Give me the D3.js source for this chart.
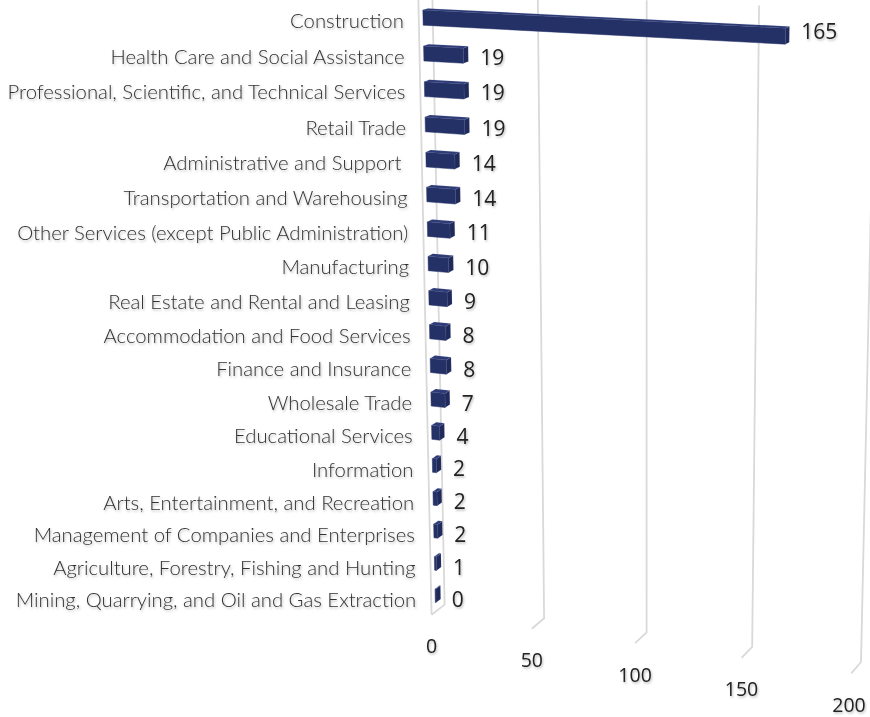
<!DOCTYPE html>
<html>
<head>
<meta charset="utf-8">
<script src="https://cdn.jsdelivr.net/npm/d3@7"></script>
<style>
  body { margin: 0; background: #ffffff; }
  svg { display: block; }
</style>
</head>
<body>
<svg id="chart" width="870" height="717"></svg>
<script>
// ---- data ----
const categories = [
  "Construction",
  "Health Care and Social Assistance",
  "Professional, Scientific, and Technical Services",
  "Retail Trade",
  "Administrative and Support ",
  "Transportation and Warehousing",
  "Other Services (except Public Administration)",
  "Manufacturing",
  "Real Estate and Rental and Leasing",
  "Accommodation and Food Services",
  "Finance and Insurance",
  "Wholesale Trade",
  "Educational Services",
  "Information",
  "Arts, Entertainment, and Recreation",
  "Management of Companies and Enterprises",
  "Agriculture, Forestry, Fishing and Hunting",
  "Mining, Quarrying, and Oil and Gas Extraction"
];
const values = [165, 19, 19, 19, 14, 14, 11, 10, 9, 8, 8, 7, 4, 2, 2, 2, 1, 0];
const valueTicks = [0, 50, 100, 150, 200];

// ---- 3D box: value (x) × category (y, top→bottom) × depth (z, front→back) ----
const n = categories.length;
const xWorld = d3.scaleLinear().domain([0, 200]).range([0, 1]);
const yWorld = d3.scaleBand().domain(categories).range([0, 1]).paddingInner(0.58).paddingOuter(0.29);
const step = yWorld.step();
const zWorld = d3.scaleLinear().domain([0, 1]).range([0, 1]);
const barDepth = [0.3, 0.65];

// Camera: a perspective (3x4) projection fitted to where box landmarks sit on the page.
// Each landmark: [value, category position (in bands), depth, pageX, pageY|null]
const landmarks = [
  [0, 18, 1, 443, 605], [50, 18, 1, 543, 618], [100, 18, 1, 647, 633], [150, 18, 1, 752.3, 646.7], [200, 18, 1, 861.7, 661.7],
  [0, 18, 0, 431.7, 615], [50, 18, 0, 531.7, 630], [100, 18, 0, 635, 644], [150, 18, 0, 741.7, 658], [200, 18, 0, 850.7, 673],
  [50, 0, 1, 537.7, null], [100, 0, 1, 647.3, null], [150, 0, 1, 759, null], [0, 0.5, 1, 431.7, null], [0, 0.5, 0, 418, null],
  [0, 0.3, 0.3, 422, 10.5], [0, 0.7, 0.3, 422, 23.5], [165, 0.3, 0.3, 785, 29], [165, 0.7, 0.3, 785, 43],
  [19, 1.3, 0.3, 465, 47.5], [19, 1.7, 0.3, 465, 63.5], [19, 1.3, 0.65, 469.3, 48.5],
  [0, 7.5, 0.3, 428.3, 264], [0, 8.5, 0.3, 429.3, 298],
  [0, 17.3, 0.3, 435, 589], [0, 17.7, 0.3, 435, 600], [0, 17.3, 0.65, 440.7, 587], [0, 17.7, 0.65, 440.7, 597]
];

function solveLinear(A, b) {
  const m = b.length;
  const M = A.map((row, i) => row.concat([b[i]]));
  for (let col = 0; col < m; col++) {
    let piv = col;
    for (let r = col + 1; r < m; r++) if (Math.abs(M[r][col]) > Math.abs(M[piv][col])) piv = r;
    [M[col], M[piv]] = [M[piv], M[col]];
    for (let r = col + 1; r < m; r++) {
      const f = M[r][col] / M[col][col];
      for (let c = col; c <= m; c++) M[r][c] -= f * M[col][c];
    }
  }
  const x = new Array(m).fill(0);
  for (let r = m - 1; r >= 0; r--) {
    let s = M[r][m];
    for (let c = r + 1; c < m; c++) s -= M[r][c] * x[c];
    x[r] = s / M[r][r];
  }
  return x;
}

function fitCamera(points) {
  const rows = [], rhs = [];
  points.forEach(([v, c, z, px, py]) => {
    const X = xWorld(v), Y = c / n, Z = zWorld(z);
    rows.push([1, X, Y, Z, 0, 0, 0, 0, -px * X, -px * Y, -px * Z]); rhs.push(px);
    if (py !== null) { rows.push([0, 0, 0, 0, 1, X, Y, Z, -py * X, -py * Y, -py * Z]); rhs.push(py); }
  });
  const k = 11;
  const AtA = Array.from({ length: k }, () => new Array(k).fill(0));
  const Atb = new Array(k).fill(0);
  rows.forEach((r, i) => {
    for (let a = 0; a < k; a++) {
      Atb[a] += r[a] * rhs[i];
      for (let b = 0; b < k; b++) AtA[a][b] += r[a] * r[b];
    }
  });
  return solveLinear(AtA, Atb);
}
const cam = fitCamera(landmarks);

// world (normalised) → page
function projectW(X, Y, Z) {
  const w = 1 + cam[8] * X + cam[9] * Y + cam[10] * Z;
  return [(cam[0] + cam[1] * X + cam[2] * Y + cam[3] * Z) / w,
          (cam[4] + cam[5] * X + cam[6] * Y + cam[7] * Z) / w];
}
// value, category position in bands, depth → page
const project = (v, c, z) => projectW(xWorld(v), c / n, zWorld(z));

const svg = d3.select("#chart");
const defs = svg.append("defs");
const shadow = defs.append("filter").attr("id", "textShadow")
  .attr("x", "-10%").attr("y", "-20%").attr("width", "130%").attr("height", "160%");
shadow.append("feDropShadow").attr("dx", 1).attr("dy", 1.5).attr("stdDeviation", 0.9)
  .attr("flood-color", "#000").attr("flood-opacity", 0.28);

// ---- walls: gridlines on the back wall and floor ----
const line = d3.line();
const grid = svg.append("g").attr("fill", "none").attr("stroke", "#d9d9d9").attr("stroke-width", 1.8);
valueTicks.forEach(t => {
  grid.append("path").attr("d", line([project(t, -0.17, 1), project(t, n, 1), project(t, n, 0)]));
});
grid.append("path").attr("d", line([project(0, -0.17, 0), project(0, n, 0)]));

// ---- bars as shaded boxes ----
function signedArea(pts) {
  let s = 0;
  for (let i = 0; i < pts.length; i++) {
    const [x1, y1] = pts[i], [x2, y2] = pts[(i + 1) % pts.length];
    s += x1 * y2 - x2 * y1;
  }
  return s / 2;
}
function boxFaces(v0, v1, c0, c1, z0, z1) {
  const P = (a, b, d) => project(a ? v1 : v0, b ? c1 : c0, d ? z1 : z0);
  return [
    { name: "front",  pts: [P(0,0,0), P(0,1,0), P(1,1,0), P(1,0,0)], fill: "#243166" },
    { name: "back",   pts: [P(0,0,1), P(1,0,1), P(1,1,1), P(0,1,1)], fill: "#1e2858" },
    { name: "left",   pts: [P(0,0,0), P(0,0,1), P(0,1,1), P(0,1,0)], fill: "#28346c" },
    { name: "right",  pts: [P(1,0,0), P(1,1,0), P(1,1,1), P(1,0,1)], fill: "#1f2a5b" },
    { name: "top",    pts: [P(0,0,0), P(1,0,0), P(1,0,1), P(0,0,1)], fill: "#2c3a76" },
    { name: "bottom", pts: [P(0,1,0), P(0,1,1), P(1,1,1), P(1,1,0)], fill: "#1b244f" }
  ];
}
const refSign = Math.sign(signedArea(boxFaces(0, 100, 8, 9, 0.3, 0.65)[0].pts));

const bars = svg.append("g");
categories.forEach((cat, i) => {
  const c0 = yWorld(cat) / step, c1 = c0 + yWorld.bandwidth() / step;
  const v = Math.max(values[i], 0.4);
  const faces = boxFaces(0, v, c0, c1, barDepth[0], barDepth[1])
    .filter(f => Math.sign(signedArea(f.pts)) === refSign && Math.abs(signedArea(f.pts)) > 0.01);
  const g = bars.append("g");
  faces.forEach(f => {
    g.append("path").attr("d", line(f.pts) + "Z")
      .attr("fill", f.fill)
      .attr("stroke", f.name === "front" ? f.fill : "rgba(140,150,190,0.25)")
      .attr("stroke-width", 0.5)
      .attr("stroke-linejoin", "round");
  });
});

// ---- category labels ----
const catLabels = svg.append("g")
  .attr("font-family", "Lato, 'Open Sans', sans-serif")
  .attr("font-weight", 300)
  .attr("font-size", 20.3)
  .attr("fill", "#333")
  .attr("filter", "url(#textShadow)");
categories.forEach((cat, i) => {
  const [x, y] = project(0, yWorld(cat) / step + 0.5 * yWorld.bandwidth() / step, 0);
  catLabels.append("text")
    .attr("x", x - 15).attr("y", y + 0.5)
    .attr("text-anchor", "end")
    .attr("dominant-baseline", "central")
    .style("white-space", "pre")
    .text(cat);
});

// ---- value labels ----
const valLabels = svg.append("g")
  .attr("font-family", "'Open Sans', Lato, sans-serif")
  .attr("font-size", 21)
  .attr("fill", "#222")
  .attr("filter", "url(#textShadow)");
categories.forEach((cat, i) => {
  const cMid = yWorld(cat) / step + 0.5 * yWorld.bandwidth() / step;
  const [xe] = project(values[i], cMid, barDepth[1]);
  const [, y0] = project(0, cMid, 0);
  const [, ye] = project(values[i], cMid, 0);
  valLabels.append("text")
    .attr("x", xe + 12).attr("y", d3.interpolateNumber(y0, ye)(0.65))
    .attr("dominant-baseline", "central")
    .text(values[i]);
});

// ---- value axis tick labels ----
const axisLabels = svg.append("g")
  .attr("font-family", "'Open Sans', Lato, sans-serif")
  .attr("font-size", 19.5)
  .attr("fill", "#222")
  .attr("text-anchor", "middle")
  .attr("filter", "url(#textShadow)");
valueTicks.forEach(t => {
  const [x, y] = project(t, n, 0);
  axisLabels.append("text")
    .attr("x", Math.min(x, 849)).attr("y", y + 31)
    .attr("dominant-baseline", "central")
    .text(t);
});
</script>
</body>
</html>
